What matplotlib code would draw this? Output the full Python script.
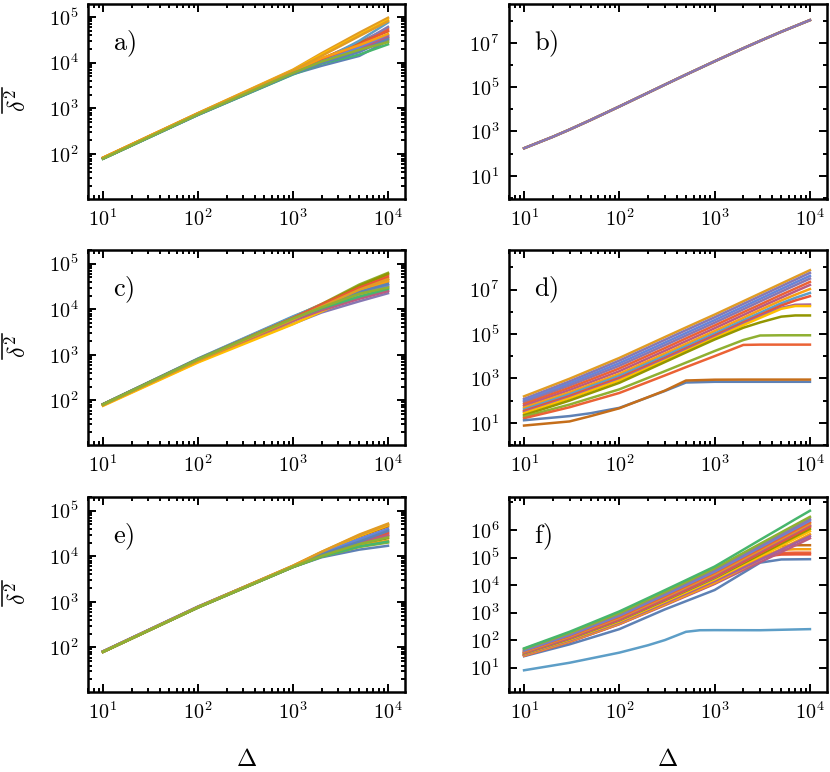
import numpy as np
import matplotlib
matplotlib.use("Agg")
import matplotlib.pyplot as plt
from matplotlib.lines import Line2D
from matplotlib.ticker import FixedLocator, FuncFormatter, NullFormatter, LogLocator

plt.rcParams['mathtext.fontset'] = 'cm'
plt.rcParams['font.family'] = 'serif'
plt.rcParams['font.serif'] = ['cmr10', 'DejaVu Serif']
plt.rcParams['axes.formatter.use_mathtext'] = True

# Mathematica-like default palette
palette = ['#5E81B5', '#E19C24', '#8FB032', '#EB6235', '#8778B3', '#C56E1A',
           '#5D9EC7', '#FFBF00', '#A5609D', '#929600', '#E95536', '#6685D9',
           '#F89F13', '#BC5B80', '#47B66D']

# ---------------- panel a ----------------
x_a = [10, 100, 1000, 2000, 5000, 10000]
a_lines = [
    [80, 720, 5600, 8500, 14000, 30000],
    [84, 790, 7000, 16000, 45000, 95000],
    [80, 740, 5800, 10000, 20000, 32000],
    [82, 760, 6200, 12000, 28000, 55000],
    [82, 750, 6000, 11500, 26000, 60000],
    [83, 770, 6300, 12000, 27000, 48000],
    [81, 740, 6000, 11000, 30000, 75000],
    [84, 780, 6800, 15000, 40000, 85000],
    [81, 750, 6000, 11000, 22000, 40000],
    [80, 740, 5900, 10000, 18000, 35000],
    [82, 760, 6100, 11500, 25000, 50000],
    [80, 730, 5800, 10500, 21000, 38000],
    [83, 770, 6400, 12500, 24000, 42000],
    [81, 745, 5900, 10000, 19000, 36000],
    [79, 720, 5500, 9500, 15000, 25000],
    [80, 730, 5700, 9800, 17000, 33000],
    [83, 780, 6700, 14000, 38000, 80000],
    [80, 740, 5900, 10500, 19000, 28000],
]

# ---------------- panel b ----------------
x_b = [10, 20, 30, 50, 100, 200, 300, 500, 1000, 2000, 3000, 5000, 10000]
b_values = [175, 573, 1216, 3296, 13370, 55700, 1.285e5, 3.65e5, 1.46e6, 5.64e6,
            1.216e7, 3.13e7, 1.05e8]
b_colors = ['#5E81B5', '#E19C24', '#8FB032', '#EB6235', '#8778B3']

# ---------------- panel c ----------------
x_c = [10, 100, 1000, 2000, 5000, 10000]
c_lines = [
    [82, 800, 6000, 10500, 20000, 30000],
    [78, 700, 5500, 10500, 25000, 40000],
    [83, 820, 6800, 13000, 35000, 63000],
    [82, 810, 6600, 13000, 32000, 55000],
    [80, 760, 4800, 8500, 15000, 22500],
    [81, 790, 6300, 12000, 28000, 45000],
    [83, 830, 7000, 12500, 25000, 35000],
    [76, 680, 4700, 9000, 20000, 32000],
    [81, 780, 5900, 10000, 18000, 26000],
    [82, 800, 6400, 12500, 33000, 60000],
    [82, 800, 6500, 12500, 30000, 50000],
    [81, 790, 6000, 11000, 22000, 33000],
    [79, 730, 5600, 11000, 26000, 42000],
    [80, 770, 5600, 9500, 17000, 25000],
    [82, 800, 6200, 10500, 19000, 28000],
    [81, 790, 6100, 11000, 24000, 36000],
    [80, 760, 6000, 11500, 27000, 46000],
    [81, 790, 6300, 11000, 22000, 30000],
]

# ---------------- panel d ----------------
x_d = [10, 30, 50, 100, 200, 300, 500, 1000, 2000, 3000, 5000, 7000, 10000]
d_lines = [
    ([155, 960, 2400, 8300, 32400, 72000, 1.95e5, 7.4e5, 2.96e6, 6.66e6, 1.85e7, 3.63e7, 7.4e7], '#E19C24'),
    ([118, 730, 1825, 6300, 24400, 54000, 1.47e5, 5.6e5, 2.24e6, 5.04e6, 1.4e7, 2.74e7, 5.6e7], '#8778B3'),
    ([100, 590, 1435, 4800, 18400, 40500, 1.1e5, 4.2e5, 1.68e6, 3.8e6, 1.05e7, 2.05e7, 4.1e7], '#6685D9'),
    ([85, 477, 1140, 3700, 14100, 31000, 8.4e4, 3.2e5, 1.28e6, 2.9e6, 8.0e6, 1.55e7, 3.1e7], '#8778B3'),
    ([70, 376, 880, 2800, 10600, 23000, 6.3e4, 2.4e5, 9.5e5, 2.1e6, 5.8e6, 1.1e7, 2.2e7], '#EB6235'),
    ([58, 297, 680, 2100, 7950, 17300, 4.7e4, 1.8e5, 7.1e5, 1.6e6, 4.3e6, 8.2e6, 1.6e7], '#BC5B80'),
    ([48, 235, 530, 1600, 6030, 13100, 3.55e4, 1.35e5, 5.3e5, 1.2e6, 3.2e6, 5.8e6, 1.05e7], '#F89F13'),
    ([40, 194, 435, 1300, 4800, 10300, 2.8e4, 1.05e5, 4.1e5, 9.0e5, 2.4e6, 4.2e6, 7.0e6], '#5D9EC7'),
    ([34, 160, 355, 1050, 3870, 8300, 2.25e4, 8.5e4, 3.3e5, 7.2e5, 1.9e6, 3.2e6, 5.0e6], '#E95536'),
    ([30, 140, 308, 900, 3370, 7300, 1.97e4, 7.5e4, 2.9e5, 6.2e5, 1.5e6, 2.05e6, 2.1e6], '#A5609D'),
    ([27, 125, 275, 800, 2940, 6300, 1.7e4, 6.5e4, 2.5e5, 5.3e5, 1.35e6, 1.8e6, 1.8e6], '#FFBF00'),
    ([22, 100, 218, 630, 2440, 5400, 1.47e4, 5.6e4, 1.9e5, 3.3e5, 6.0e5, 6.8e5, 6.8e5], '#929600'),
    ([19, 66, 129, 320, 1050, 2100, 5100, 1.7e4, 5.3e4, 8.5e4, 8.7e4, 8.7e4, 8.7e4], '#8FB032'),
    ([16, 50, 94, 220, 690, 1350, 3200, 1.0e4, 3.2e4, 3.3e4, 3.3e4, 3.3e4, 3.3e4], '#EB6235'),
    ([13, 20, 27, 47, 140, 270, 650, 700, 700, 700, 700, 700, 700], '#5E81B5'),
    ([7.5, 11.5, 20, 45, 143, 280, 800, 870, 880, 880, 880, 880, 880], '#C56E1A'),
]

# ---------------- panel e ----------------
x_e = [10, 100, 1000, 2000, 5000, 10000]
e_lines = [
    [80, 760, 5800, 9500, 14000, 17000],
    [81, 770, 6200, 12500, 30000, 52000],
    [80, 750, 5800, 9800, 16000, 20000],
    [80, 760, 5900, 10000, 18000, 28000],
    [82, 790, 6000, 11000, 22000, 34000],
    [81, 770, 6100, 12000, 27000, 45000],
    [81, 770, 6000, 11000, 23000, 38000],
    [80, 760, 6100, 12000, 28000, 48000],
    [81, 770, 5900, 10500, 20000, 30000],
    [79, 750, 5800, 10000, 18000, 25000],
    [80, 760, 5900, 10500, 19000, 32000],
    [82, 780, 6000, 11500, 24000, 40000],
    [80, 750, 5900, 10000, 17000, 22000],
    [81, 770, 6000, 10500, 20000, 29000],
    [80, 750, 5800, 9800, 16500, 21000],
    [81, 770, 6000, 11000, 21000, 36000],
    [81, 775, 6200, 12500, 29000, 50000],
    [80, 760, 5900, 10200, 18500, 26000],
]

# ---------------- panel f ----------------
x_f = [10, 30, 50, 100, 200, 300, 500, 1000, 2000, 3000, 5000, 7000, 10000]
f_lines = [
    ([26, 70, 120, 250, 708, 1300, 2590, 6600, 28000, 65000, 85000, 86000, 87000], '#5E81B5'),
    ([30, 98, 187, 450, 1297, 2400, 5220, 15000, 58000, 130000, 260000, 280000, 280000], '#C56E1A'),
    ([28, 90, 169, 400, 1140, 2100, 4470, 12500, 48000, 105000, 190000, 200000, 200000], '#F89F13'),
    ([27, 86, 162, 380, 1065, 1950, 4140, 11500, 44000, 95000, 145000, 150000, 150000], '#EB6235'),
    ([29, 94, 177, 420, 1190, 2200, 4670, 13000, 50000, 105000, 128000, 130000, 130000], '#E95536'),
    ([27, 86, 162, 380, 1025, 1840, 3930, 11000, 35000, 68000, 158000, 275000, 500000], '#BC5B80'),
    ([28, 90, 169, 400, 1094, 1970, 4240, 12000, 41000, 84000, 206000, 370000, 700000], '#F89F13'),
    ([30, 98, 185, 440, 1225, 2230, 4860, 14000, 43000, 84000, 193000, 340000, 600000], '#A5609D'),
    ([32, 105, 200, 480, 1357, 2490, 5480, 16000, 54000, 109000, 267000, 480000, 900000], '#FFBF00'),
    ([33, 111, 214, 520, 1490, 2750, 6100, 18000, 62000, 128000, 320000, 580000, 1.1e6], '#929600'),
    ([34, 115, 222, 540, 1560, 2900, 6440, 19000, 69000, 148000, 380000, 720000, 1.4e6], '#8778B3'),
    ([35, 119, 230, 560, 1620, 3010, 6720, 20000, 70000, 146000, 370000, 680000, 1.3e6], '#E95536'),
    ([36, 125, 243, 600, 1750, 3270, 7340, 22000, 78000, 165000, 420000, 780000, 1.5e6], '#BC5B80'),
    ([38, 134, 262, 650, 1925, 3630, 8240, 25000, 89000, 188000, 480000, 880000, 1.7e6], '#E19C24'),
    ([40, 142, 280, 700, 2100, 3980, 9110, 28000, 100000, 210000, 535000, 990000, 1.9e6], '#EB6235'),
    ([42, 154, 306, 780, 2335, 4430, 10100, 31000, 112000, 237000, 610000, 1.13e6, 2.2e6], '#6685D9'),
    ([45, 166, 332, 850, 2570, 4900, 11300, 35000, 126000, 268000, 690000, 1.28e6, 2.5e6], '#8778B3'),
    ([48, 181, 366, 950, 2900, 5550, 12800, 40000, 147000, 314000, 820000, 1.54e6, 3.0e6], '#8FB032'),
    ([50, 200, 412, 1100, 3370, 6500, 15000, 47000, 192000, 440000, 1.23e6, 2.45e6, 5.0e6], '#47B66D'),
]
x_f_low = [10, 30, 100, 200, 300, 500, 700, 1000, 3000, 10000]
f_low = [8, 15, 35, 65, 100, 200, 228, 230, 228, 250]

tick_vals_lo = [1e2, 1e3, 1e4, 1e5]

fig = plt.figure(figsize=(8.3, 7.72), dpi=100)
W, H = 830.0, 772.0

def make_ax(x0, x1, y0, y1):
    return fig.add_axes([x0 / W, 1 - y1 / H, (x1 - x0) / W, (y1 - y0) / H])

cols = [(88, 405), (509, 827)]
rows = [(4, 199), (250, 445), (497, 692)]

fmt = FuncFormatter(lambda v, p: r'$10^{%d}$' % int(round(np.log10(v))))

def style(ax, ylim, ymajor, yminor):
    ax.set_xscale('log')
    ax.set_yscale('log')
    ax.set_xlim(6.95, 1.51e4)
    ax.set_ylim(*ylim)
    ax.xaxis.set_major_locator(FixedLocator([1e1, 1e2, 1e3, 1e4]))
    ax.xaxis.set_minor_locator(LogLocator(base=10, subs=np.arange(2, 10), numticks=20))
    ax.xaxis.set_major_formatter(fmt)
    ax.xaxis.set_minor_formatter(NullFormatter())
    ax.yaxis.set_major_locator(FixedLocator(ymajor))
    ax.yaxis.set_minor_locator(yminor)
    ax.yaxis.set_major_formatter(fmt)
    ax.yaxis.set_minor_formatter(NullFormatter())
    ax.tick_params(which='both', direction='in', top=True, right=True,
                   labelsize=14.5, width=1.4, pad=7)
    ax.tick_params(which='major', length=5.5)
    ax.tick_params(which='minor', length=3)
    for s in ax.spines.values():
        s.set_linewidth(1.8)

def panel_label(ax, t):
    ax.text(0.08, 0.765, t, transform=ax.transAxes, fontsize=19,
            ha='left', va='baseline')

def ylab(row):
    y0, y1 = row
    yc = (y0 + y1) / 2.0 - 1.5
    fig.text(31.0 / W, 1 - yc / H, r'$\delta^{2}$',
             fontsize=17, rotation=90, ha='right', va='center')
    # overline of the mean symbol (rotated with the label)
    fig.add_artist(Line2D([1.8 / W, 1.8 / W], [1 - (yc - 12.5) / H, 1 - (yc + 12.5) / H],
                          transform=fig.transFigure, color='black', lw=1.1))

def xlab(ax):
    ax.set_xlabel(r'$\Delta$', fontsize=17.5)
    ax.xaxis.set_label_coords(0.5, -0.29)

# a
ax = make_ax(*cols[0], *rows[0])
for i, vals in enumerate(a_lines):
    ax.plot(x_a, vals, color=palette[i % len(palette)], lw=1.8)
style(ax, (10.5, 1.9e5), tick_vals_lo, LogLocator(base=10, subs=np.arange(2, 10), numticks=20))
panel_label(ax, r'$\mathrm{a)}$')
ylab(rows[0])

# b
ax = make_ax(*cols[1], *rows[0])
for c in b_colors:
    ax.plot(x_b, b_values, color=c, lw=1.8)
style(ax, (0.9, 5.6e8), [1e1, 1e3, 1e5, 1e7], FixedLocator([1e0, 1e2, 1e4, 1e6, 1e8]))
panel_label(ax, r'$\mathrm{b)}$')

# c
ax = make_ax(*cols[0], *rows[1])
for i, vals in enumerate(c_lines):
    ax.plot(x_c, vals, color=palette[i % len(palette)], lw=1.8)
style(ax, (10.5, 2.0e5), tick_vals_lo, LogLocator(base=10, subs=np.arange(2, 10), numticks=20))
panel_label(ax, r'$\mathrm{c)}$')
ylab(rows[1])

# d
ax = make_ax(*cols[1], *rows[1])
for vals, c in d_lines:
    ax.plot(x_d, vals, color=c, lw=1.8)
style(ax, (1.0, 6.0e8), [1e1, 1e3, 1e5, 1e7], FixedLocator([1e0, 1e2, 1e4, 1e6, 1e8]))
panel_label(ax, r'$\mathrm{d)}$')

# e
ax = make_ax(*cols[0], *rows[2])
for i, vals in enumerate(e_lines):
    ax.plot(x_e, vals, color=palette[i % len(palette)], lw=1.8)
style(ax, (10.5, 2.0e5), tick_vals_lo, LogLocator(base=10, subs=np.arange(2, 10), numticks=20))
panel_label(ax, r'$\mathrm{e)}$')
ylab(rows[2])
xlab(ax)

# f
ax = make_ax(*cols[1], *rows[2])
for vals, c in f_lines:
    ax.plot(x_f, vals, color=c, lw=1.8)
ax.plot(x_f_low, f_low, color='#5D9EC7', lw=1.8)
style(ax, (1.3, 1.58e7), [1e1, 1e2, 1e3, 1e4, 1e5, 1e6],
      FixedLocator([1e0, 1e7]))
panel_label(ax, r'$\mathrm{f)}$')
xlab(ax)

fig.savefig('out.png', dpi=100, facecolor='white')
